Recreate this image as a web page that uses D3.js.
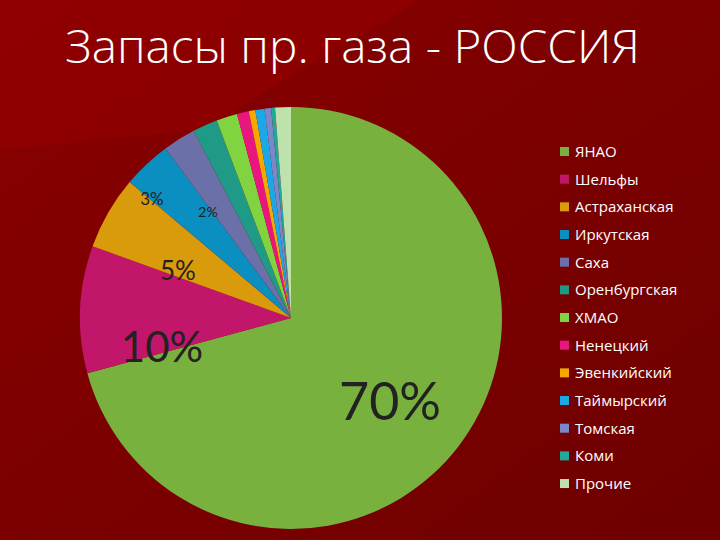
<!DOCTYPE html>
<html><head><meta charset="utf-8">
<script src="https://cdn.jsdelivr.net/npm/d3@7"></script>
<style>body{margin:0;background:#780000}</style>
</head><body>
<svg width="720" height="540"></svg>
<script>
var categories = ["ЯНАО","Шельфы","Астраханская","Иркутская","Саха","Оренбургская","ХМАО","Ненецкий","Эвенкийский","Таймырский","Томская","Коми","Прочие"];
var values = [70.5, 9.7, 5.6, 3.7, 2.5, 1.9, 1.6, 0.9, 0.5, 0.7, 0.5, 0.3, 1.2];
var colorList = ["#78b13e","#c2166b","#d99a0c","#0b8fc0","#6b70a9","#1f9a86","#7fd43f","#e8167e","#f5a900","#1ba8e6","#7b87c9","#21a89a","#bde2ab"];
var pctLabels = ["70%","10%","5%","3%","2%"];
var labelPos = [[390,420,52],[162,362,42],[178,280,26],[152,205,17],[208,217,14]];

var width = 720, height = 540, radius = 211;
var svg = d3.select("svg");

// background
var grad = svg.append("defs").append("linearGradient").attr("id","bg")
  .attr("x1","0").attr("y1","0").attr("x2","1").attr("y2","1");
grad.append("stop").attr("offset","0").attr("stop-color","#8a0000");
grad.append("stop").attr("offset","1").attr("stop-color","#6e0000");
svg.append("rect").attr("width",width).attr("height",height).attr("fill","url(#bg)");
svg.append("path").attr("d","M0,0 L420,0 L200,130 L0,150 Z").attr("fill","#920000").attr("opacity",0.7);

svg.append("text").attr("x",65).attr("y",63)
  .attr("textLength",575).attr("lengthAdjust","spacingAndGlyphs")
  .attr("fill","#fff").style("font-family","'Open Sans', sans-serif").style("font-weight",300).style("font-size","46px")
  .text("Запасы пр. газа - РОССИЯ");

var colors = d3.scaleOrdinal().domain(categories).range(colorList);
var pie = d3.pie().sort(null).value(function(d){ return d.value; });
var arc = d3.arc().innerRadius(0).outerRadius(radius);
var data = categories.map(function(c,i){ return {cat:c, value:values[i]}; });

var g = svg.append("g").attr("transform","translate(291,318)");
g.selectAll("path").data(pie(data)).enter().append("path")
  .attr("d", arc).attr("fill", function(d){ return colors(d.data.cat); });

svg.selectAll(".lbl").data(pctLabels).enter().append("text")
  .attr("x", function(d,i){ return labelPos[i][0]; })
  .attr("y", function(d,i){ return labelPos[i][1]; })
  .attr("text-anchor","middle")
  .style("font-size", function(d,i){ return labelPos[i][2]+"px"; })
  .style("font-family","Lato, sans-serif")
  .attr("fill","#222")
  .text(function(d){ return d; });

var legend = svg.selectAll(".legend").data(categories).enter().append("g")
  .attr("transform", function(d,i){ return "translate(560," + (152 + i*27.67) + ")"; });
legend.append("rect").attr("x",0).attr("y",-5).attr("width",9).attr("height",9)
  .attr("fill", function(d){ return colors(d); });
legend.append("text").attr("x",15).attr("y",5).attr("fill","#fff")
  .style("font-family","'Open Sans', sans-serif").style("font-size","15px")
  .text(function(d){ return d; });
</script>
</body></html>
